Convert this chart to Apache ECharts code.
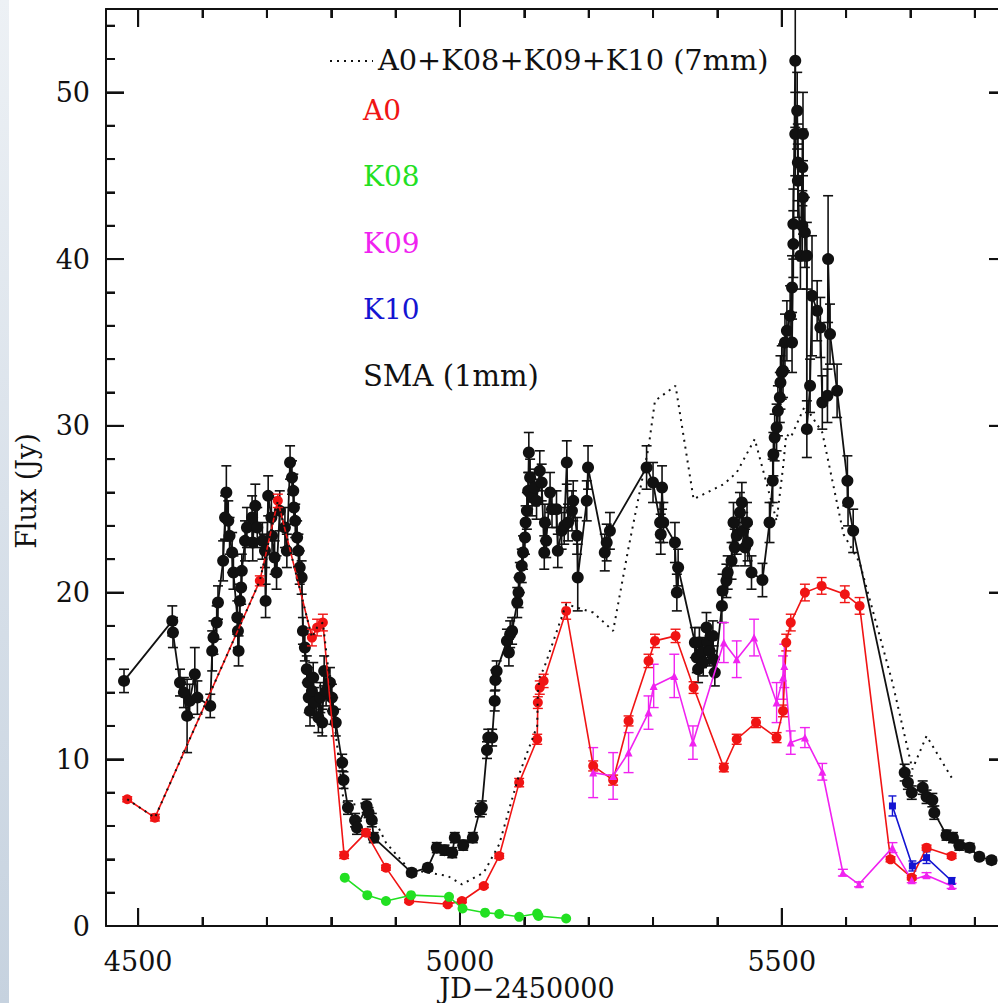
<!DOCTYPE html>
<html>
<head>
<meta charset="utf-8">
<script src="https://cdn.jsdelivr.net/npm/echarts@6/dist/echarts.min.js"></script>
<style>
html,body{margin:0;padding:0;background:#fff;overflow:hidden;width:998px;height:1003px;}
#strip{position:absolute;left:0;top:0;width:9px;height:1003px;background:linear-gradient(to bottom,#edf1f5,#d9e1ea 50%,#c6d2df);}
#chart{position:absolute;left:0;top:0;width:1014px;height:1003px;}
</style>
</head>
<body>
<div id="strip"></div>
<div id="chart"></div>
<script>
// ---- data: [JD-2450000, flux (Jy), error] ----
const smaData = [
[4478,14.7,0.7],[4553,18.3,0.9],[4554,17.6,0.9],[4565,14.6,0.8],[4571,14.0,0.9],[4576,12.6,2.2],[4580,13.5,1.0],[4588,15.1,1.6],[4592,13.7,1.0],[4612,13.2,0.7],[4615,16.5,1.2],[4617,17.3,1.0],[4622,18.2,1.0],[4624,19.4,1.0],[4632,21.9,1.2],[4635,24.5,1.3],[4637,26.0,1.6],[4640,24.3,1.2],[4642,23.4,1.1],[4646,22.4,1.2],[4648,21.2,1.0],[4654,18.5,1.0],[4655,17.7,1.0],[4656,16.5,0.9],[4658,19.5,1.0],[4660,20.3,1.0],[4661,21.3,1.0],[4666,23.1,1.2],[4669,23.9,1.2],[4677,24.5,1.3],[4678,23.0,1.1],[4682,25.2,1.3],[4685,23.9,1.2],[4693,23.1,1.1],[4697,22.5,1.0],[4698,19.5,1.0],[4702,25.8,1.2],[4707,24.5,1.2],[4708,23.4,1.1],[4712,22.1,1.0],[4715,21.2,1.0],[4720,24.9,1.2],[4728,23.9,1.2],[4731,22.5,1.0],[4736,27.8,1.0],[4739,26.9,1.0],[4741,26.1,1.0],[4742,25.1,1.0],[4744,24.3,1.0],[4747,23.3,1.0],[4749,22.5,1.0],[4751,21.5,1.0],[4754,20.9,1.0],[4756,17.7,0.8],[4759,16.7,0.8],[4762,15.4,0.8],[4764,14.6,0.9],[4765,13.7,0.9],[4767,12.9,0.9],[4770,14.1,1.0],[4772,14.9,0.9],[4774,13.4,0.9],[4780,12.5,0.9],[4783,13.7,0.9],[4786,12.2,0.8],[4789,15.3,0.9],[4792,14.1,0.9],[4798,14.6,0.9],[4801,13.7,0.8],[4803,12.9,0.8],[4807,12.2,0.8],[4817,9.8,0.5],[4819,8.75,0.5],[4826,7.1,0.4],[4837,6.35,0.4],[4840,5.9,0.4],[4855,7.2,0.4],[4858,6.8,0.3],[4863,6.35,0.4],[4866,5.3,0.3],[4925,3.2,0.2],[4950,3.5,0.2],[4964,4.7,0.3],[4976,4.55,0.3],[4988,4.4,0.3],[4992,5.3,0.3],[5005,4.85,0.3],[5020,5.3,0.3],[5031,6.95,0.4],[5034,7.1,0.4],[5042,10.55,0.5],[5044,11.3,0.5],[5050,11.3,0.5],[5054,13.5,0.6],[5055,14.75,0.6],[5057,15.3,0.6],[5073,17.1,0.7],[5076,16.4,0.8],[5078,17.5,0.8],[5081,17.7,0.8],[5089,19.4,0.9],[5091,20.0,0.9],[5093,20.9,0.9],[5096,21.6,1.0],[5098,22.4,1.0],[5101,23.3,1.0],[5102,24.2,1.0],[5104,24.9,1.1],[5106,26.1,1.1],[5107,28.4,1.2],[5109,26.9,1.1],[5112,25.7,1.1],[5116,26.3,1.1],[5119,25.5,1.1],[5124,27.3,1.2],[5127,26.6,1.1],[5131,22.4,1.0],[5132,24.2,1.1],[5134,23.1,1.0],[5140,26.0,1.2],[5143,25.0,1.1],[5150,25.0,1.1],[5152,22.5,1.0],[5158,23.7,1.1],[5162,24.0,1.1],[5166,27.8,1.3],[5168,24.2,1.1],[5174,24.9,1.2],[5176,25.5,1.2],[5182,23.4,1.1],[5183,20.9,2.0],[5197,25.5,1.2],[5199,27.5,1.3],[5225,22.4,1.1],[5228,23.0,1.1],[5233,23.7,1.1],[5290,27.5,1.3],[5300,26.6,1.2],[5311,24.2,1.2],[5312,23.5,1.2],[5314,26.3,1.3],[5316,24.2,1.2],[5334,23.0,1.2],[5337,20.0,1.1],[5339,21.5,1.1],[5365,17.0,0.9],[5368,16.1,0.9],[5370,15.4,0.8],[5372,17.0,0.9],[5376,16.4,0.9],[5378,15.8,0.8],[5383,17.9,0.9],[5385,17.0,0.9],[5388,16.5,0.9],[5393,17.4,0.9],[5394,16.0,0.8],[5396,15.2,0.8],[5407,19.2,1.0],[5408,20.1,1.0],[5414,20.7,1.0],[5416,21.2,1.0],[5422,21.9,1.1],[5425,24.2,1.2],[5427,22.7,1.1],[5430,23.4,1.1],[5435,24.8,1.2],[5438,25.4,1.2],[5440,23.7,1.1],[5443,22.7,1.1],[5446,24.2,1.2],[5447,23.0,1.1],[5453,21.2,1.0],[5470,20.75,1.0],[5481,24.2,1.2],[5486,26.7,1.3],[5487,28.3,1.3],[5489,29.3,1.4],[5492,29.9,1.4],[5494,30.9,1.5],[5497,31.7,1.5],[5498,32.6,1.6],[5500,33.2,1.6],[5502,33.3,1.6],[5505,35.0,1.7],[5508,35.7,1.8],[5513,36.6,1.8],[5516,38.3,1.9],[5516,35.0,1.8],[5518,40.9,2.0],[5518,42.1,2.1],[5521,51.9,4.0],[5521,47.5,2.5],[5524,48.9,2.3],[5525,45.8,2.3],[5525,44.7,2.2],[5529,40.2,2.0],[5532,45.5,2.3],[5532,42.0,2.1],[5533,47.5,2.5],[5533,43.7,2.2],[5536,41.6,2.1],[5539,40.2,2.0],[5539,29.8,1.7],[5544,32.4,1.6],[5547,37.8,3.6],[5555,36.9,1.8],[5560,35.9,1.8],[5563,31.4,1.6],[5571,31.8,1.6],[5572,40.0,3.8],[5575,35.5,1.8],[5586,32.1,1.6],[5602,26.7,1.5],[5603,25.4,1.4],[5611,23.7,1.3],[5691,9.2,0.5],[5696,8.6,0.4],[5702,8.0,0.4],[5719,8.3,0.4],[5725,7.75,0.4],[5734,7.55,0.4],[5737,6.8,0.4],[5756,5.45,0.3],[5766,5.3,0.3],[5776,4.85,0.3],[5792,4.7,0.25],[5807,4.15,0.2],[5826,3.95,0.2]
];
const a0Data = [
[4483,7.6,0.15],[4526,6.5,0.2],[4689,20.7,0.3],[4717,25.5,0.4],[4770,17.3,0.5],[4778,17.9,0.5],[4787,18.2,0.5],[4820,4.25,0.2],[4854,5.6,0.2],[4885,3.5,0.15],[4921,1.5,0.1],[4981,1.3,0.1],[5003,1.5,0.1],[5037,2.4,0.1],[5061,4.2,0.15],[5092,8.6,0.25],[5120,11.2,0.3],[5121,13.4,0.35],[5124,14.3,0.4],[5130,14.7,0.4],[5165,18.9,0.5],[5207,9.6,0.3],[5238,8.75,0.3],[5262,12.3,0.3],[5293,15.9,0.4],[5303,17.1,0.4],[5335,17.4,0.4],[5363,14.3,0.35],[5410,9.5,0.25],[5430,11.2,0.3],[5460,12.2,0.3],[5492,11.3,0.3],[5502,12.9,0.35],[5507,17.0,0.5],[5514,18.2,0.5],[5536,20.0,0.5],[5562,20.4,0.5],[5598,19.9,0.5],[5621,19.2,0.5],[5669,4.0,0.15],[5702,2.9,0.12],[5725,4.7,0.15],[5764,4.2,0.15]
];
const k08Data = [
[4821,2.9],[4856,1.85],[4885,1.5],[4924,1.85],[4983,1.75],[5004,1.05],[5039,0.8],[5061,0.72],[5092,0.55],[5120,0.75],[5122,0.6],[5165,0.45]
];
const k09Data = [
[5207,9.2,1.5],[5238,9.0,1.4],[5262,10.4,1.2],[5293,12.8,1.0],[5301,14.4,1.3],[5333,15.0,1.3],[5362,11.0,1.0],[5410,17.0,1.2],[5430,16.0,1.1],[5457,17.3,1.1],[5492,13.4,1.2],[5502,14.9,1.3],[5504,15.6,1.3],[5514,11.0,0.7],[5536,11.3,0.6],[5563,9.25,0.5],[5595,3.2,0.2],[5620,2.5,0.15],[5672,4.7,0.3],[5702,2.75,0.15],[5725,3.05,0.15],[5764,2.4,0.15]
];
const k10Data = [
[5672,7.2,0.6],[5703,3.6,0.3],[5725,4.1,0.35],[5764,2.7,0.2]
];
const sum7mmData = [
[4483,7.6],[4526,6.5],[4689,20.7],[4717,25.5],[4770,17.3],[4778,17.9],[4787,18.2],[4820,7.2],[4854,7.4],[4885,5.0],[4921,3.4],[4981,3.0],[5003,2.5],[5037,3.2],[5061,4.9],[5092,9.1],[5120,12.0],[5121,14.0],[5124,15.0],[5130,15.4],[5165,19.3],[5207,18.8],[5238,17.7],[5262,22.7],[5293,28.7],[5303,31.5],[5335,32.4],[5363,25.6],[5410,26.5],[5430,27.2],[5458,29.2],[5492,24.3],[5502,27.5],[5507,29.5],[5514,29.3],[5536,31.2],[5563,29.6],[5596,23.5],[5621,21.8],[5672,14.6],[5703,9.4],[5725,11.4],[5764,8.9]
];
// axis ranges and ticks
const xRange = [4450, 5850];
const yRange = [0, 55];
const xTickStart = 4500, xMajorStep = 500, xMinorStep = 100;
const yMajorStep = 10, yMinorStep = 2;
const xMajorTicks = [4500, 5000, 5500];
const xMinorTicks = [4600, 4700, 4800, 4900, 5100, 5200, 5300, 5400, 5600, 5700, 5800];
const yMajorTicks = [0, 10, 20, 30, 40, 50];
const yMinorTicks = [2,4,6,8,12,14,16,18,22,24,26,28,32,34,36,38,42,44,46,48,52,54];
const legendLabels = ['A0+K08+K09+K10 (7mm)', 'A0', 'K08', 'K09', 'K10', 'SMA (1mm)'];
const xTitle = 'JD\u22122450000';
const yTitle = 'Flux (Jy)';

// ---- styling ----
const FONT = 'DejaVu Serif';
const INK = '#111111';
const RED = '#f01414', GREEN = '#22e022', MAG = '#f022f0', BLUE = '#1414d2';
const G_LEFT = 106, G_TOP = 9, G_W = 901, G_H = 917;
const MAJOR_LEN = 18, MINOR_LEN = 9;
const tickLeft = G_LEFT + (xTickStart - xRange[0]) * G_W / (xRange[1] - xRange[0]);

const chart = echarts.init(document.getElementById('chart'), null, {renderer: 'svg'});

function sortX(arr) { return arr.slice().sort((a, b) => a[0] - b[0]); }
function errRows(arr) { return arr.map(d => [d[0], d[1] - d[2], d[1] + d[2]]); }
function errSeries(arr, color, cap, lw, z) {
  return {
    type: 'custom', xAxisIndex: 0, yAxisIndex: 0, z: z, clip: true, silent: true,
    data: errRows(arr),
    encode: {x: 0, y: [1, 2]},
    renderItem: function (params, api) {
      const x = api.value(0), lo = api.value(1), hi = api.value(2);
      const p1 = api.coord([x, lo]), p2 = api.coord([x, hi]);
      const st = {stroke: color, lineWidth: lw};
      return {type: 'group', children: [
        {type: 'line', shape: {x1: p1[0], y1: p1[1], x2: p2[0], y2: p2[1]}, style: st},
        {type: 'line', shape: {x1: p1[0] - cap, y1: p1[1], x2: p1[0] + cap, y2: p1[1]}, style: st},
        {type: 'line', shape: {x1: p2[0] - cap, y1: p2[1], x2: p2[0] + cap, y2: p2[1]}, style: st}
      ]};
    }
  };
}
function lineSeries(name, arr, color, symbol, size, lw, z) {
  return {
    name: name, type: 'line', xAxisIndex: 0, yAxisIndex: 0, z: z,
    data: sortX(arr).map(d => [d[0], d[1]]),
    symbol: symbol, symbolSize: size, showSymbol: true,
    lineStyle: {color: color, width: lw},
    itemStyle: {color: color, borderWidth: 0, opacity: 1},
    animation: false, silent: true
  };
}
const noSplit = {splitLine: {show: false}, minorTick: {show: false}, minorSplitLine: {show: false}};
const tickStyle = {color: INK, width: 2};
function xMainAxis(pos, labels) {
  return Object.assign({type: 'value', gridIndex: 0, position: pos, min: xRange[0], max: xRange[1],
    axisLine: {show: true, onZero: false, lineStyle: {color: INK, width: 2}},
    axisTick: {show: false},
    axisLabel: {show: labels, customValues: xMajorTicks, fontFamily: FONT, fontSize: 27, color: INK, margin: 22,
      formatter: v => String(v)}}, noSplit);
}
function xTickAxis(pos, step, len) {
  return Object.assign({type: 'value', gridIndex: 1, position: pos, min: xTickStart, max: xRange[1], interval: step,
    axisLine: {show: false, onZero: false},
    axisTick: {show: true, inside: true, length: len, lineStyle: tickStyle},
    axisLabel: {show: false}}, noSplit);
}
function yAxisDef(pos, step, len, showLine, labels) {
  return Object.assign({type: 'value', gridIndex: 0, position: pos, min: yRange[0], max: yRange[1], interval: step,
    axisLine: {show: showLine, onZero: false, lineStyle: {color: INK, width: 2}},
    axisTick: {show: true, inside: true, length: len, lineStyle: tickStyle},
    axisLabel: {show: labels, customValues: yMajorTicks, fontFamily: FONT, fontSize: 27, color: INK, margin: 16,
      formatter: v => String(v)}}, noSplit);
}

const legendX = 363, legendY0 = 110, legendDY = 66.5;
const legendColors = [INK, RED, GREEN, MAG, BLUE, INK];
const graphics = [];
graphics.push({type: 'line', shape: {x1: 330, y1: 61, x2: 373, y2: 61},
  style: {stroke: INK, lineWidth: 2, lineDash: [2, 5]}, silent: true});
graphics.push({type: 'text', x: 378, y: 60, silent: true,
  style: {text: legendLabels[0], font: '28.8px "' + FONT + '"', fill: INK, verticalAlign: 'middle', align: 'left'}});
for (let i = 1; i < legendLabels.length; i++) {
  const fs = legendLabels[i].length > 4 ? '29px' : '28px';
  graphics.push({type: 'text', x: legendX, y: legendY0 + (i - 1) * legendDY, silent: true,
    style: {text: legendLabels[i], font: fs + ' "' + FONT + '"', fill: legendColors[i], verticalAlign: 'middle', align: 'left'}});
}
graphics.push({type: 'text', x: 527, y: 988, silent: true,
  style: {text: xTitle, font: '27px "' + FONT + '"', fill: INK, align: 'center', verticalAlign: 'middle'}});
graphics.push({type: 'text', x: 26, y: 491, rotation: Math.PI / 2, silent: true,
  style: {text: yTitle, font: '27px "' + FONT + '"', fill: INK, align: 'center', verticalAlign: 'middle'}});

chart.setOption({
  animation: false,
  backgroundColor: 'transparent',
  grid: [
    {left: G_LEFT, top: G_TOP, width: G_W, height: G_H, containLabel: false, outerBoundsMode: 'none'},
    {left: tickLeft, top: G_TOP, width: G_LEFT + G_W - tickLeft, height: G_H, containLabel: false, outerBoundsMode: 'none'}
  ],
  xAxis: [
    xMainAxis('bottom', true), xMainAxis('top', false),
    xTickAxis('bottom', xMajorStep, MAJOR_LEN), xTickAxis('bottom', xMinorStep, MINOR_LEN),
    xTickAxis('top', xMajorStep, MAJOR_LEN), xTickAxis('top', xMinorStep, MINOR_LEN)
  ],
  yAxis: [
    yAxisDef('left', yMajorStep, MAJOR_LEN, true, true),
    yAxisDef('left', yMinorStep, MINOR_LEN, false, false),
    yAxisDef('right', yMajorStep, MAJOR_LEN, true, false),
    yAxisDef('right', yMinorStep, MINOR_LEN, false, false),
    {type: 'value', gridIndex: 1, min: 0, max: 1, show: false}
  ],
  graphic: graphics,
  series: [
    errSeries(smaData, INK, 5, 1.6, 1),
    lineSeries('SMA (1mm)', smaData, INK, 'circle', 12, 1.8, 2),
    errSeries(a0Data, RED, 5, 1.4, 3),
    lineSeries('A0', a0Data, RED, 'circle', 10, 1.6, 4),
    lineSeries('K08', k08Data, GREEN, 'circle', 10, 1.6, 4),
    errSeries(k09Data, MAG, 5, 1.4, 3),
    lineSeries('K09', k09Data, MAG, 'triangle', 8, 1.6, 4),
    errSeries(k10Data, BLUE, 4, 1.4, 3),
    lineSeries('K10', k10Data, BLUE, 'rect', 7, 1.6, 4),
    {name: 'A0+K08+K09+K10 (7mm)', type: 'line', xAxisIndex: 0, yAxisIndex: 0, z: 5,
     data: sum7mmData, symbol: 'none', silent: true,
     lineStyle: {color: INK, width: 2, type: [2, 5]}}
  ]
});

// also draw the inward ticks as graphic lines placed through the chart's own scales
(function addTickGraphics() {
  const finder = {xAxisIndex: 0, yAxisIndex: 0};
  const extra = [];
  const st = {stroke: INK, lineWidth: 2};
  function xt(v, len) {
    const b = chart.convertToPixel(finder, [v, yRange[0]]), t = chart.convertToPixel(finder, [v, yRange[1]]);
    extra.push({type: 'line', silent: true, shape: {x1: b[0], y1: b[1], x2: b[0], y2: b[1] - len}, style: st});
    extra.push({type: 'line', silent: true, shape: {x1: t[0], y1: t[1], x2: t[0], y2: t[1] + len}, style: st});
  }
  function yt(v, len) {
    const l = chart.convertToPixel(finder, [xRange[0], v]), r = chart.convertToPixel(finder, [xRange[1], v]);
    extra.push({type: 'line', silent: true, shape: {x1: l[0], y1: l[1], x2: l[0] + len, y2: l[1]}, style: st});
    extra.push({type: 'line', silent: true, shape: {x1: r[0], y1: r[1], x2: r[0] - len, y2: r[1]}, style: st});
  }
  try {
    xMajorTicks.forEach(v => xt(v, MAJOR_LEN));
    xMinorTicks.forEach(v => xt(v, MINOR_LEN));
    yMajorTicks.forEach(v => yt(v, MAJOR_LEN));
    yMinorTicks.forEach(v => yt(v, MINOR_LEN));
    chart.setOption({graphic: graphics.concat(extra)});
  } catch (e) { /* ticks from the axes remain */ }
})();
</script>
</body>
</html>
